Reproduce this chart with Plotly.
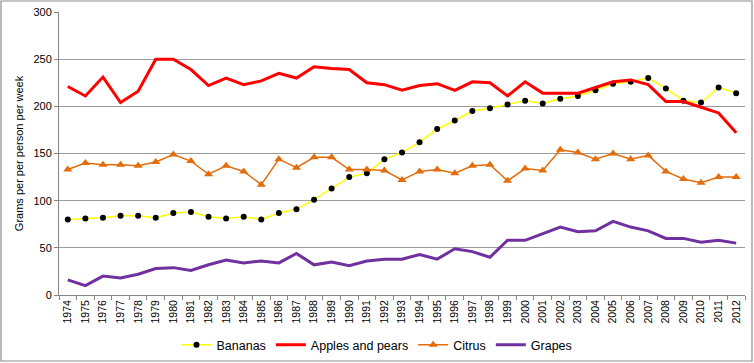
import plotly.graph_objects as go

years = [str(y) for y in range(1974, 2013)]

bananas = [80, 81, 82, 84, 84, 82, 87, 88, 83, 81, 83, 80, 87, 91, 101, 113, 125, 129, 144, 151,
           162, 176, 185, 195, 198, 202, 206, 203, 208, 211, 217, 224, 226, 230, 219, 206, 204, 220, 214]
apples_pears = [221, 211, 231, 204, 216, 250, 250, 239, 222, 230, 223, 227, 235, 230, 242, 240, 239, 225, 223, 217,
                222, 224, 217, 226, 225, 211, 226, 214, 214, 214, 220, 226, 228, 223, 205, 205, 199, 193, 172]
citrus = [133, 140, 138, 138, 137, 141, 149, 142, 128, 137, 131, 117, 144, 135, 146, 146, 133, 133, 132, 122,
          131, 133, 129, 137, 138, 121, 134, 132, 154, 151, 144, 150, 144, 148, 131, 123, 119, 125, 125]
grapes = [16, 10, 20, 18, 22, 28, 29, 26, 32, 37, 34, 36, 34, 44, 32, 35, 31, 36, 38, 38,
          43, 38, 49, 46, 40, 58, 58, 65, 72, 67, 68, 78, 72, 68, 60, 60, 56, 58, 55]

y_ticks = [0, 50, 100, 150, 200, 250, 300]

fig = go.Figure()
fig.add_trace(go.Scatter(x=years, y=bananas, name="Bananas", mode="lines+markers",
                         line=dict(color="#FFFF00", width=1.5),
                         marker=dict(color="black", size=6, symbol="circle")))
fig.add_trace(go.Scatter(x=years, y=apples_pears, name="Apples and pears", mode="lines",
                         line=dict(color="#FF0000", width=3)))
fig.add_trace(go.Scatter(x=years, y=citrus, name="Citrus", mode="lines+markers",
                         line=dict(color="#E46C0A", width=1.5),
                         marker=dict(color="#E46C0A", size=8, symbol="triangle-up")))
fig.add_trace(go.Scatter(x=years, y=grapes, name="Grapes", mode="lines",
                         line=dict(color="#7030A0", width=3)))

L, R, T, B = 59, 9, 12, 68
W, H = 754, 363
pw, ph = W - L - R, H - T - B

def px_to_paper_x(px):
    return (px - L) / pw

def px_to_paper_y(py):
    return (H - B - py) / ph

fig.add_shape(type="rect", xref="paper", yref="paper",
              x0=px_to_paper_x(1), x1=px_to_paper_x(752),
              y0=px_to_paper_y(361), y1=px_to_paper_y(1),
              line=dict(color="#8c8c8c", width=1.2), fillcolor="rgba(0,0,0,0)", layer="above")

fig.update_layout(
    width=W, height=H,
    margin=dict(l=L, r=R, t=T, b=B, autoexpand=False),
    paper_bgcolor="white", plot_bgcolor="white",
    font=dict(family="Liberation Sans, Arial, sans-serif", size=11, color="black"),
    showlegend=True,
    legend=dict(orientation="h", x=px_to_paper_x(377), xanchor="center", y=px_to_paper_y(345), yanchor="middle",
                font=dict(size=12.5), itemwidth=30, tracegroupgap=0),
    xaxis=dict(type="category", tickson="boundaries", ticks="outside", ticklen=4,
               tickcolor="#868686", showline=True, linecolor="#868686", linewidth=1,
               showgrid=False, tickangle=-90, tickfont=dict(size=10.5),
               range=[-0.5, len(years) - 0.5], fixedrange=True),
    yaxis=dict(range=[0, 300], tickvals=y_ticks, ticks="outside", ticklen=4,
               tickcolor="#868686", showline=True, linecolor="#868686", linewidth=1,
               showgrid=True, gridcolor="#9a9a9a", gridwidth=1.2, zeroline=False,
               tickfont=dict(size=11),
               title=dict(text="Grams per per person per week", font=dict(size=11), standoff=7)),
)

fig.write_html("out.html", config={"displayModeBar": False},
               post_script="document.body.style.margin='0';document.body.style.overflow='hidden';")
